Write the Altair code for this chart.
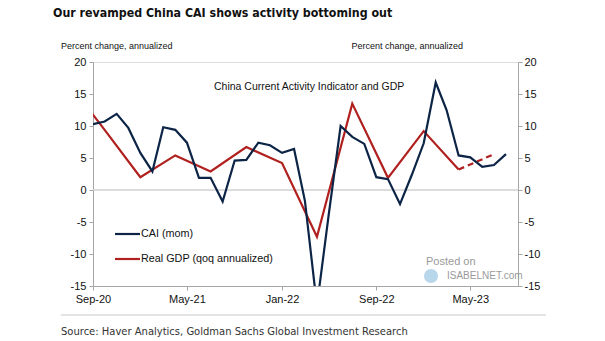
import altair as alt
import pandas as pd

# ---- data ----
cai_months = [
    "2020-09-01", "2020-10-01", "2020-11-01", "2020-12-01",
    "2021-01-01", "2021-02-01", "2021-03-01", "2021-04-01", "2021-05-01", "2021-06-01",
    "2021-07-01", "2021-08-01", "2021-09-01", "2021-10-01", "2021-11-01", "2021-12-01",
    "2022-01-01", "2022-02-01", "2022-03-01", "2022-04-01", "2022-05-01", "2022-06-01",
    "2022-07-01", "2022-08-01", "2022-09-01", "2022-10-01", "2022-11-01", "2022-12-01",
    "2023-01-01", "2023-02-01", "2023-03-01", "2023-04-01", "2023-05-01", "2023-06-01",
    "2023-07-01", "2023-08-01",
]
cai_values = [
    10.3, 10.7, 11.9, 9.7,
    5.8, 2.9, 9.8, 9.4, 7.4, 1.9,
    1.9, -1.8, 4.6, 4.7, 7.4, 7.0,
    5.8, 6.4, -1.7, -18.1, -4.0, 10.0,
    8.3, 7.2, 2.0, 1.7, -2.2, 2.3,
    7.3, 16.8, 12.5, 5.4, 5.1, 3.6,
    3.9, 5.6,
]
gdp_quarters = [
    "2020-07-01", "2020-10-01", "2021-01-01", "2021-04-01", "2021-07-01", "2021-10-01",
    "2022-01-01", "2022-04-01", "2022-07-01", "2022-10-01", "2023-01-01", "2023-04-01",
]
gdp_values = [16.6, 9.4, 2.0, 5.4, 2.9, 6.7, 4.2, -7.3, 13.5, 1.9, 9.2, 3.2]
fcst_quarters = ["2023-04-01", "2023-07-01"]
fcst_values = [3.2, 5.6]

x_ticks = ["2020-09", "2021-05", "2022-01", "2022-09", "2023-05"]

# ---- styles ----
NAVY = "#0c2445"
RED = "#b0201e"
FONT = "Liberation Sans, Arial, sans-serif"
NARROW = "DejaVu Sans Condensed, Liberation Sans, sans-serif"

cai_df = pd.DataFrame({"date": cai_months, "value": cai_values})
gdp_df = pd.DataFrame({"date": gdp_quarters, "value": gdp_values})
fc_df = pd.DataFrame({"date": fcst_quarters, "value": fcst_values})
zero_df = pd.DataFrame({"value": [0]})


def dt(s):
    y, m = s.split("-")[:2]
    return alt.DateTime(year=int(y), month=int(m), date=1, utc=True)


x_scale = alt.Scale(type="utc", domain=[dt("2020-09"), dt("2023-09")])
x_axis = alt.Axis(
    values=[dt(s) for s in x_ticks], format="%b-%y", title=None, grid=False,
    domainColor="#a6a6a6", tickColor="#a6a6a6", tickSize=4, labelPadding=3,
    labelFontSize=11, labelColor="#111111", labelFont=FONT, labelFlush=False,
    labelOverlap=False,
)
y_dom = [-15, 20]
y_vals = [-15, -10, -5, 0, 5, 10, 15, 20]
y_common = dict(
    values=y_vals, title=None, grid=False, labelExpr="'' + datum.value",
    domainColor="#a6a6a6", tickColor="#a6a6a6", tickSize=4,
    labelFontSize=11, labelColor="#111111", labelFont=FONT, labelFlush=False,
    labelOverlap=False,
)
y_left = alt.Axis(orient="left", labelPadding=3, **y_common)
y_right = alt.Axis(orient="right", labelPadding=2, **y_common)

X = alt.X("date:T", scale=x_scale, axis=x_axis)
Yl = alt.Y("value:Q", scale=alt.Scale(domain=y_dom, nice=False), axis=y_left)
Yr = alt.Y("value:Q", scale=alt.Scale(domain=y_dom, nice=False), axis=y_right)

zero = alt.Chart(zero_df).mark_rule(color="#d0d0d0", strokeWidth=1.5).encode(y=Yl)
gdp = alt.Chart(gdp_df).mark_line(color=RED, strokeWidth=2.2, clip=True).encode(x=X, y=Yl)
fc = alt.Chart(fc_df).mark_line(color=RED, strokeWidth=2.2, strokeDash=[6, 4], clip=True).encode(x=X, y=Yl)
cai = alt.Chart(cai_df).mark_line(color=NAVY, strokeWidth=2.2, clip=True).encode(x=X, y=Yl)

left = alt.layer(zero, gdp, fc, cai)
right = alt.Chart(cai_df).mark_line(opacity=0).encode(x=X, y=Yr)


def txt(s, x, y, size=11, font=FONT, weight="normal", color="#111111", align="left", baseline="middle"):
    return alt.Chart(zero_df).mark_text(
        text=s, fontSize=size, font=font, fontWeight=weight, color=color,
        align=align, baseline=baseline,
    ).encode(x=alt.value(x), y=alt.value(y))


def hline(x1, x2, y, color, width=2.2):
    return alt.Chart(zero_df).mark_rule(color=color, strokeWidth=width).encode(
        x=alt.value(x1), x2=alt.value(x2), y=alt.value(y)
    )


annos = [
    txt("Our revamped China CAI shows activity bottoming out", -40, -45, size=12.3,
        font=NARROW, weight="bold", baseline="alphabetic"),
    txt("Percent change, annualized", -32, -16, size=9),
    txt("Percent change, annualized", 370, -16, size=9, align="right"),
    txt("China Current Activity Indicator and GDP", 121, 25, size=10.5),
    hline(22, 47, 172, NAVY),
    txt("CAI (mom)", 48, 172, size=10.8),
    hline(22, 47, 197, RED),
    txt("Real GDP (qoq annualized)", 48, 197, size=10.8),
    hline(-32, 453, 253, "#c8c8c8", width=1.2),
    txt("Source: Haver Analytics, Goldman Sachs Global Investment Research", -32, 270,
        size=11.1, font=NARROW, color="#333333"),
    alt.Chart(zero_df).mark_point(filled=True, color="#7fb6d9", opacity=0.55, size=200).encode(
        x=alt.value(338), y=alt.value(214)),
    txt("Posted on", 333, 200, size=11, color="#9a9a9a"),
    txt("ISABELNET.com", 354, 214, size=10, color="#9a9a9a"),
]

chart = alt.layer(left, right, *annos).resolve_scale(y="independent").properties(
    width=425, height=224,
    autosize=alt.AutoSizeParams(type="none"),
    padding={"left": 93, "top": 62, "right": 87, "bottom": 55},
).configure_view(stroke="#d6d6d6", strokeWidth=1).configure(background="white")

chart.save("out.html", embed_options={"renderer": "svg", "actions": False})
